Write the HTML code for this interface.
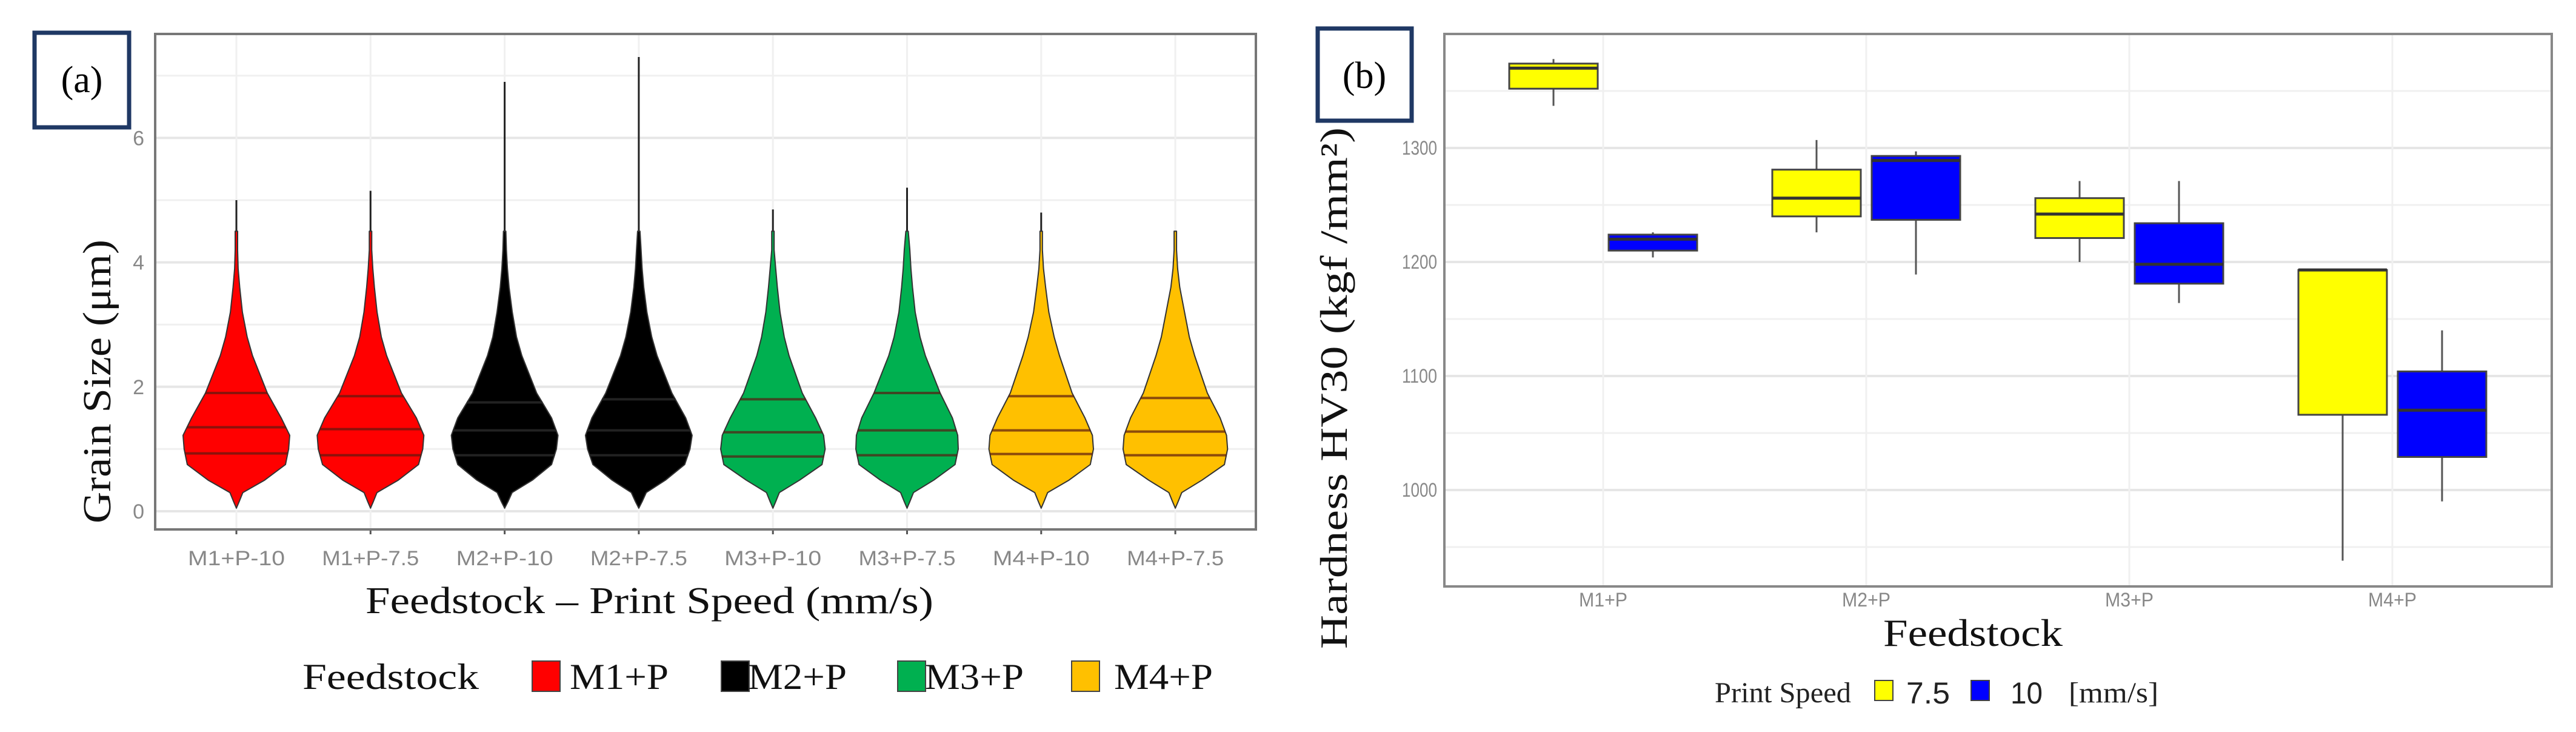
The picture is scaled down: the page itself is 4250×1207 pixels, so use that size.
<!DOCTYPE html>
<html><head><meta charset="utf-8"><style>
html,body{margin:0;padding:0;background:#fff;}
svg{display:block;}
text{font-family:"Liberation Sans",sans-serif;}
.serif{font-family:"Liberation Serif",serif;}
</style></head><body>
<svg id="fig" width="4250" height="1207" viewBox="0 0 4250 1207" xmlns="http://www.w3.org/2000/svg">
<g id="pa"></g>
<g id="pb"></g>
</svg>
<script>
// ---------- Panel (a) data ----------
const violinCats = ["M1+P-10","M1+P-7.5","M2+P-10","M2+P-7.5","M3+P-10","M3+P-7.5","M4+P-10","M4+P-7.5"];
const violinGroup = [0,0,1,1,2,2,3,3];
const groupNames = ["M1+P","M2+P","M3+P","M4+P"];
const groupColors = ["#ff0000","#000000","#00b050","#ffc000"];
const violinMax = [5.0,5.15,6.9,7.3,4.85,5.2,4.8,4.5];
const violinQ1 = [0.93,0.90,0.90,0.90,0.88,0.90,0.92,0.90];
const violinMed = [1.35,1.32,1.30,1.30,1.27,1.30,1.30,1.28];
const violinQ3 = [1.90,1.85,1.75,1.80,1.80,1.90,1.85,1.82];
const densGrid = [0.05,0.15,0.3,0.5,0.75,1.0,1.22,1.5,1.9,2.5,2.8,3.2,3.6,3.9,4.2,4.5];
const dens1 = [0,0.05,0.12,0.53,0.92,0.98,1.0,0.84,0.58,0.28,0.18,0.09,0.04,0.01,0,0];
const dens2 = [0,0.05,0.12,0.52,0.90,0.98,1.0,0.86,0.58,0.28,0.18,0.10,0.05,0.02,0,0];
const dens3 = [0,0.06,0.14,0.52,0.88,0.97,1.0,0.88,0.60,0.30,0.20,0.12,0.06,0.03,0.01,0];
const dens4 = [0,0.06,0.14,0.50,0.86,0.96,1.0,0.88,0.62,0.32,0.22,0.13,0.07,0.04,0.02,0];
const dens5 = [0,0.05,0.12,0.50,0.92,0.98,0.95,0.80,0.55,0.28,0.19,0.11,0.06,0.03,0,0];
const dens6 = [0,0.05,0.12,0.50,0.90,0.96,0.95,0.85,0.62,0.32,0.22,0.13,0.08,0.05,0.03,0];
const dens7 = [0,0.05,0.12,0.52,0.92,0.98,0.96,0.82,0.58,0.32,0.22,0.12,0.06,0.02,0,0];
const dens8 = [0,0.05,0.12,0.50,0.92,0.98,0.96,0.84,0.60,0.34,0.24,0.15,0.06,0.02,0,0];
const violinDens = [dens1,dens2,dens3,dens4,dens5,dens6,dens7,dens8];
const aTicks = [0,2,4,6];

// ---------- Panel (b) data ----------
const boxCats = ["M1+P","M2+P","M3+P","M4+P"];
const speedNames = ["7.5","10"];
const speedColors = ["#ffff00","#0000ff"];
const boxLow75 = [1337,1226,1200,938];
const boxQ1_75 = [1352,1240,1221,1066];
const boxMed75 = [1370,1256,1242,1193];
const boxQ3_75 = [1374,1281,1256,1193];
const boxHigh75 = [1378,1307,1271,1193];
const boxLow10 = [1204,1189,1164,990];
const boxQ1_10 = [1210,1237,1181,1029];
const boxMed10 = [1220,1289,1198,1070];
const boxQ3_10 = [1224,1293,1234,1104];
const boxHigh10 = [1226,1297,1271,1140];
const bTicks = [1000,1100,1200,1300];

const NS="http://www.w3.org/2000/svg";
function mk(parent,tag,attrs,txt){const e=document.createElementNS(NS,tag);for(const k in attrs)e.setAttribute(k,attrs[k]);if(txt!==undefined)e.textContent=txt;parent.appendChild(e);return e;}

// ===== Panel A =====
(function(){
const g=document.getElementById('pa');
const L=256,R=2072,T=56,B=873;
const y=v=>843-v*102.6;
const x=i=>390+i*221.3;
const halfMax=88;
for(let v=1;v<=7;v+=2){const l=mk(g,'line',{x1:L,x2:R,y1:y(v),y2:y(v),stroke:'#f0f0f0','stroke-width':3});}
aTicks.forEach(v=>{const l=mk(g,'line',{x1:L,x2:R,y1:y(v),y2:y(v),stroke:'#e6e6e6','stroke-width':4});
 const t=mk(g,'text',{x:L-18,y:y(v)+12,'text-anchor':'end','font-size':34,fill:'#888'},String(v));});
violinCats.forEach((c,i)=>{const l=mk(g,'line',{x1:x(i),x2:x(i),y1:T,y2:B,stroke:'#f0f0f0','stroke-width':3});});
violinCats.forEach((c,i)=>{
 const d=violinDens[i];const cx=x(i);const col=groupColors[violinGroup[i]];
 const w=mk(g,'line',{x1:cx,x2:cx,y1:y(violinMax[i]),y2:y(1.5),stroke:'#222','stroke-width':3});
 
 let right=[],left=[];
 densGrid.forEach((v,k)=>{right.push([cx+d[k]*halfMax+(k>8?2:0),y(v)]);left.push([cx-d[k]*halfMax-(k>8?2:0),y(v)]);});
 const pts=right.concat(left.reverse()).map(p=>p[0].toFixed(1)+','+p[1].toFixed(1)).join(' ');
 const p=mk(g,'polygon',{points:pts,fill:col,stroke:'#333','stroke-width':2,'stroke-linejoin':'round'});
 
 [violinQ1[i],violinMed[i],violinQ3[i]].forEach(q=>{
  let k=0;while(k<densGrid.length-1&&densGrid[k+1]<q)k++;
  const f=(q-densGrid[k])/(densGrid[k+1]-densGrid[k]);const hw=(d[k]+(d[k+1]-d[k])*f)*halfMax;
  const ql=mk(g,'line',{x1:cx-hw,x2:cx+hw,y1:y(q),y2:y(q),stroke:col==='#000000'?'#222':'#5a1a10','stroke-opacity':col==='#000000'?1:0.7,'stroke-width':4});
  });
 const t=mk(g,'text',{x:cx,y:932,'text-anchor':'middle','font-size':34,fill:'#888',textLength:160,lengthAdjust:'spacingAndGlyphs'},c);
 
 const tk=mk(g,'line',{x1:cx,x2:cx,y1:B,y2:B+8,stroke:'#555','stroke-width':3});
});
const fr=mk(g,'rect',{x:L,y:T,width:R-L,height:B-T,fill:'none',stroke:'#777','stroke-width':4});
const xt=mk(g,'text',{x:603,y:1011,'font-size':62,'class':'serif',fill:'#111',textLength:937,lengthAdjust:'spacingAndGlyphs'},'Feedstock – Print Speed (mm/s)');
const yt=mk(g,'text',{x:0,y:0,'font-size':66,'class':'serif',fill:'#111',textLength:468,lengthAdjust:'spacingAndGlyphs',transform:'translate(182,863) rotate(-90)'},'Grain Size (μm)');
const lt=mk(g,'text',{x:499,y:1136,'font-size':60,'class':'serif',fill:'#111',textLength:291,lengthAdjust:'spacingAndGlyphs'},'Feedstock');
const lx=[878,1190,1481,1768];
const tx=[940,1234,1526,1838];
groupNames.forEach((n,i)=>{
 const s=mk(g,'rect',{x:lx[i],y:1090,width:46,height:50,fill:groupColors[i],stroke:'#444','stroke-width':2});
 const t=mk(g,'text',{x:tx[i],y:1136,'font-size':60,'class':'serif',fill:'#111',textLength:163,lengthAdjust:'spacingAndGlyphs'},n);});
const lb=mk(g,'rect',{x:57,y:54,width:156,height:156,fill:'#fff',stroke:'#1f3864','stroke-width':7});
const la=mk(g,'text',{x:135,y:152,'text-anchor':'middle','font-size':62,'class':'serif',fill:'#000'},'(a)');
})();

// ===== Panel B =====
(function(){
const g=document.getElementById('pb');
const L=2383,R=4210,T=56,B=967;
const y=v=>808-(v-1000)*1.88;
const x=i=>2645+i*434;
const dodge=82,bw=146;
for(let v=950;v<=1350;v+=100){const l=mk(g,'line',{x1:L,x2:R,y1:y(v),y2:y(v),stroke:'#f0f0f0','stroke-width':3});}
bTicks.forEach(v=>{const l=mk(g,'line',{x1:L,x2:R,y1:y(v),y2:y(v),stroke:'#e6e6e6','stroke-width':4});
 const t=mk(g,'text',{x:L-12,y:y(v)+11,'text-anchor':'end','font-size':32,fill:'#888',textLength:58,lengthAdjust:'spacingAndGlyphs'},String(v));});
boxCats.forEach((c,i)=>{const l=mk(g,'line',{x1:x(i),x2:x(i),y1:T,y2:B,stroke:'#f0f0f0','stroke-width':3});
 const t=mk(g,'text',{x:x(i),y:1000,'text-anchor':'middle','font-size':32,fill:'#888',textLength:80,lengthAdjust:'spacingAndGlyphs'},c);});
const sets=[[boxLow75,boxQ1_75,boxMed75,boxQ3_75,boxHigh75],[boxLow10,boxQ1_10,boxMed10,boxQ3_10,boxHigh10]];
boxCats.forEach((c,i)=>{
 sets.forEach((s,j)=>{
  const cx=x(i)+(j==0?-dodge:dodge);
  const w=mk(g,'line',{x1:cx,x2:cx,y1:y(s[4][i]),y2:y(s[0][i]),stroke:'#555','stroke-width':3});
  const r=mk(g,'rect',{x:cx-bw/2,y:y(s[3][i]),width:bw,height:Math.max(2,y(s[1][i])-y(s[3][i])),fill:speedColors[j],stroke:'#444','stroke-width':3});
  
  const m=mk(g,'line',{x1:cx-bw/2,x2:cx+bw/2,y1:y(s[2][i]),y2:y(s[2][i]),stroke:'#333','stroke-width':5});
 });});
const fr=mk(g,'rect',{x:L,y:T,width:R-L,height:B-T,fill:'none',stroke:'#888','stroke-width':4});
const xt=mk(g,'text',{x:3107,y:1065,'font-size':64,'class':'serif',fill:'#111',textLength:296,lengthAdjust:'spacingAndGlyphs'},'Feedstock');
const yt=mk(g,'text',{x:0,y:0,'font-size':64,'class':'serif',fill:'#111',textLength:860,lengthAdjust:'spacingAndGlyphs',transform:'translate(2222,1070) rotate(-90)'},'Hardness HV30  (kgf /mm²)');
const lt=mk(g,'text',{x:2829,y:1158,'font-size':48,'class':'serif',fill:'#222',textLength:225,lengthAdjust:'spacingAndGlyphs'},'Print Speed');
const lx=[3093,3252],tx=[3145,3317],tw=[72,53];
speedNames.forEach((n,j)=>{
 const s=mk(g,'rect',{x:lx[j],y:1122,width:30,height:33,fill:speedColors[j],stroke:'#444','stroke-width':2});
 const t=mk(g,'text',{x:tx[j],y:1160,'font-size':50,fill:'#222',textLength:tw[j],lengthAdjust:'spacingAndGlyphs'},n);});
const u=mk(g,'text',{x:3413,y:1158,'font-size':48,'class':'serif',fill:'#222',textLength:148,lengthAdjust:'spacingAndGlyphs'},'[mm/s]');
const lb=mk(g,'rect',{x:2174,y:47,width:155,height:152,fill:'#fff',stroke:'#1f3864','stroke-width':7});
const la=mk(g,'text',{x:2251,y:145,'text-anchor':'middle','font-size':62,'class':'serif',fill:'#000'},'(b)');
})();
</script>
</body></html>
